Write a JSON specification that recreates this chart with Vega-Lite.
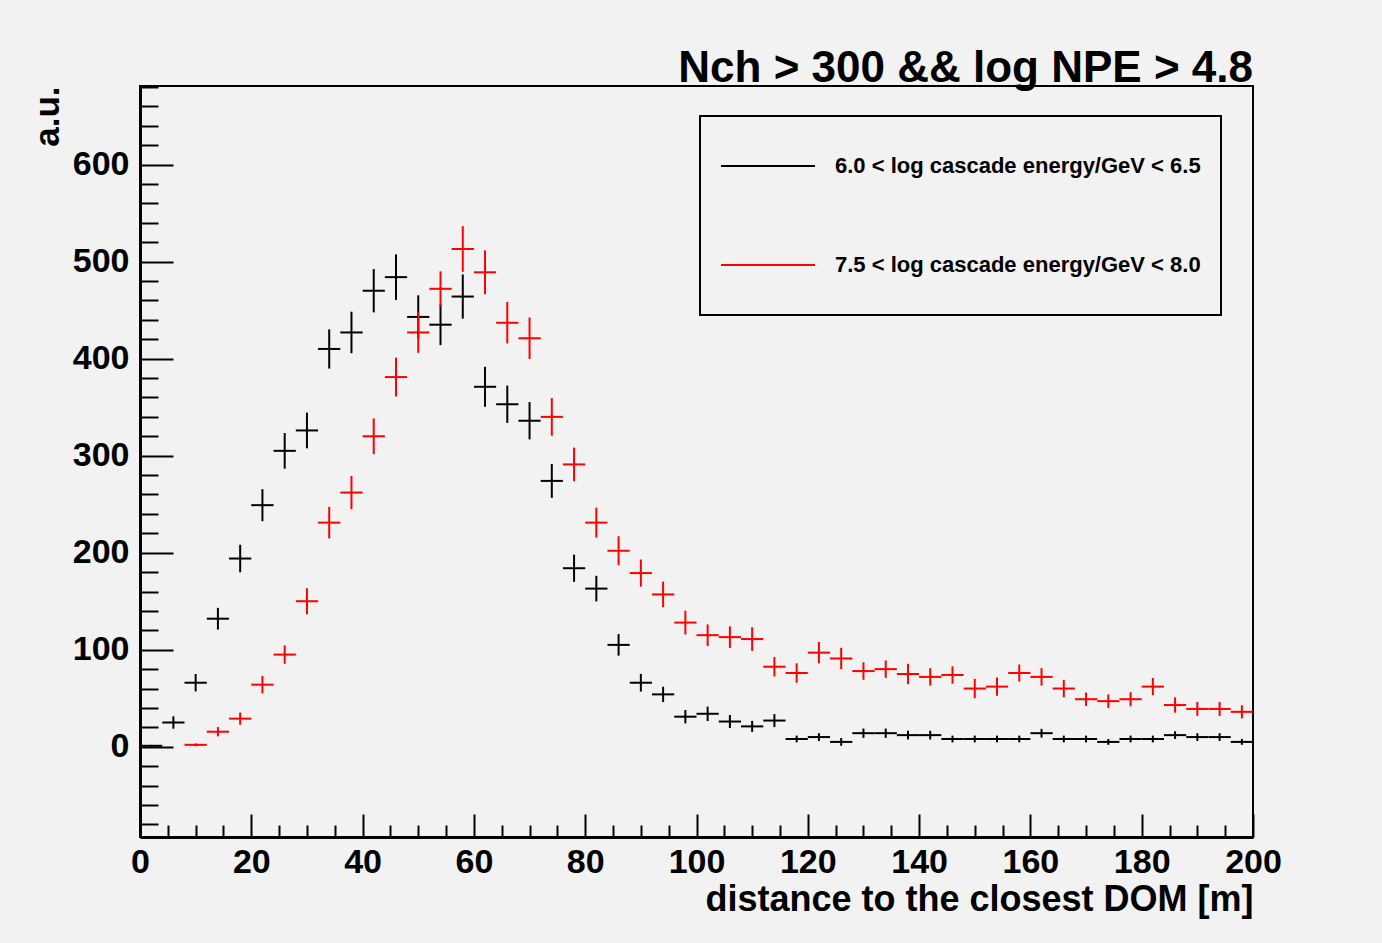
{
  "$schema": "https://vega.github.io/schema/vega-lite/v6.json",
  "width": 1113,
  "height": 751,
  "autosize": {"type": "none"},
  "padding": {"left": 140, "top": 86, "right": 129, "bottom": 106},
  "background": "#f2f2f2",
  "config": {
    "font": "Liberation Sans",
    "view": {"stroke": "#000000", "strokeWidth": 2},
    "legend": {"strokeColor": "#000000", "strokeWidth": 2, "fillColor": "#f2f2f2", "padding": 20, "cornerRadius": 0}
  },
  "title": {
    "text": "Nch > 300 && log NPE > 4.8",
    "anchor": "end",
    "frame": "group",
    "fontSize": 44,
    "fontWeight": "bold",
    "color": "#000000",
    "baseline": "alphabetic",
    "offset": -40
  },
  "data": {
    "values": [
      {"s": "6.0 < log cascade energy/GeV < 6.5", "c": 2, "lo": 0, "hi": 4, "v": 1, "e": 1},
      {"s": "6.0 < log cascade energy/GeV < 6.5", "c": 6, "lo": 4, "hi": 8, "v": 25, "e": 6.4},
      {"s": "6.0 < log cascade energy/GeV < 6.5", "c": 10, "lo": 8, "hi": 12, "v": 66, "e": 9},
      {"s": "6.0 < log cascade energy/GeV < 6.5", "c": 14, "lo": 12, "hi": 16, "v": 132, "e": 11.2},
      {"s": "6.0 < log cascade energy/GeV < 6.5", "c": 18, "lo": 16, "hi": 20, "v": 194, "e": 14.2},
      {"s": "6.0 < log cascade energy/GeV < 6.5", "c": 22, "lo": 20, "hi": 24, "v": 249, "e": 16.5},
      {"s": "6.0 < log cascade energy/GeV < 6.5", "c": 26, "lo": 24, "hi": 28, "v": 305, "e": 18.4},
      {"s": "6.0 < log cascade energy/GeV < 6.5", "c": 30, "lo": 28, "hi": 32, "v": 326, "e": 18.4},
      {"s": "6.0 < log cascade energy/GeV < 6.5", "c": 34, "lo": 32, "hi": 36, "v": 410, "e": 20.2},
      {"s": "6.0 < log cascade energy/GeV < 6.5", "c": 38, "lo": 36, "hi": 40, "v": 427, "e": 21.4},
      {"s": "6.0 < log cascade energy/GeV < 6.5", "c": 42, "lo": 40, "hi": 44, "v": 470, "e": 22.3},
      {"s": "6.0 < log cascade energy/GeV < 6.5", "c": 46, "lo": 44, "hi": 48, "v": 484, "e": 23.5},
      {"s": "6.0 < log cascade energy/GeV < 6.5", "c": 50, "lo": 48, "hi": 52, "v": 443, "e": 22.3},
      {"s": "6.0 < log cascade energy/GeV < 6.5", "c": 54, "lo": 52, "hi": 56, "v": 435, "e": 21},
      {"s": "6.0 < log cascade energy/GeV < 6.5", "c": 58, "lo": 56, "hi": 60, "v": 464, "e": 22.8},
      {"s": "6.0 < log cascade energy/GeV < 6.5", "c": 62, "lo": 60, "hi": 64, "v": 371, "e": 20.6},
      {"s": "6.0 < log cascade energy/GeV < 6.5", "c": 66, "lo": 64, "hi": 68, "v": 353, "e": 19.2},
      {"s": "6.0 < log cascade energy/GeV < 6.5", "c": 70, "lo": 68, "hi": 72, "v": 336, "e": 19.2},
      {"s": "6.0 < log cascade energy/GeV < 6.5", "c": 74, "lo": 72, "hi": 76, "v": 274, "e": 17.5},
      {"s": "6.0 < log cascade energy/GeV < 6.5", "c": 78, "lo": 76, "hi": 80, "v": 184, "e": 14},
      {"s": "6.0 < log cascade energy/GeV < 6.5", "c": 82, "lo": 80, "hi": 84, "v": 163, "e": 13.2},
      {"s": "6.0 < log cascade energy/GeV < 6.5", "c": 86, "lo": 84, "hi": 88, "v": 105, "e": 11.1},
      {"s": "6.0 < log cascade energy/GeV < 6.5", "c": 90, "lo": 88, "hi": 92, "v": 66, "e": 9.1},
      {"s": "6.0 < log cascade energy/GeV < 6.5", "c": 94, "lo": 92, "hi": 96, "v": 54, "e": 7.9},
      {"s": "6.0 < log cascade energy/GeV < 6.5", "c": 98, "lo": 96, "hi": 100, "v": 31, "e": 6.9},
      {"s": "6.0 < log cascade energy/GeV < 6.5", "c": 102, "lo": 100, "hi": 104, "v": 34, "e": 7.4},
      {"s": "6.0 < log cascade energy/GeV < 6.5", "c": 106, "lo": 104, "hi": 108, "v": 26, "e": 6.7},
      {"s": "6.0 < log cascade energy/GeV < 6.5", "c": 110, "lo": 108, "hi": 112, "v": 21, "e": 5.7},
      {"s": "6.0 < log cascade energy/GeV < 6.5", "c": 114, "lo": 112, "hi": 116, "v": 27, "e": 6.7},
      {"s": "6.0 < log cascade energy/GeV < 6.5", "c": 118, "lo": 116, "hi": 120, "v": 8, "e": 3.5},
      {"s": "6.0 < log cascade energy/GeV < 6.5", "c": 122, "lo": 120, "hi": 124, "v": 10, "e": 4},
      {"s": "6.0 < log cascade energy/GeV < 6.5", "c": 126, "lo": 124, "hi": 128, "v": 5, "e": 4},
      {"s": "6.0 < log cascade energy/GeV < 6.5", "c": 130, "lo": 128, "hi": 132, "v": 14, "e": 4.8},
      {"s": "6.0 < log cascade energy/GeV < 6.5", "c": 134, "lo": 132, "hi": 136, "v": 14, "e": 4.8},
      {"s": "6.0 < log cascade energy/GeV < 6.5", "c": 138, "lo": 136, "hi": 140, "v": 12, "e": 4.5},
      {"s": "6.0 < log cascade energy/GeV < 6.5", "c": 142, "lo": 140, "hi": 144, "v": 12, "e": 4.5},
      {"s": "6.0 < log cascade energy/GeV < 6.5", "c": 146, "lo": 144, "hi": 148, "v": 8, "e": 3.5},
      {"s": "6.0 < log cascade energy/GeV < 6.5", "c": 150, "lo": 148, "hi": 152, "v": 8, "e": 3.5},
      {"s": "6.0 < log cascade energy/GeV < 6.5", "c": 154, "lo": 152, "hi": 156, "v": 8, "e": 3.5},
      {"s": "6.0 < log cascade energy/GeV < 6.5", "c": 158, "lo": 156, "hi": 160, "v": 8, "e": 3.5},
      {"s": "6.0 < log cascade energy/GeV < 6.5", "c": 162, "lo": 160, "hi": 164, "v": 14, "e": 4.5},
      {"s": "6.0 < log cascade energy/GeV < 6.5", "c": 166, "lo": 164, "hi": 168, "v": 8, "e": 3.5},
      {"s": "6.0 < log cascade energy/GeV < 6.5", "c": 170, "lo": 168, "hi": 172, "v": 8, "e": 3.5},
      {"s": "6.0 < log cascade energy/GeV < 6.5", "c": 174, "lo": 172, "hi": 176, "v": 5, "e": 3},
      {"s": "6.0 < log cascade energy/GeV < 6.5", "c": 178, "lo": 176, "hi": 180, "v": 8, "e": 3.5},
      {"s": "6.0 < log cascade energy/GeV < 6.5", "c": 182, "lo": 180, "hi": 184, "v": 8, "e": 3.5},
      {"s": "6.0 < log cascade energy/GeV < 6.5", "c": 186, "lo": 184, "hi": 188, "v": 12, "e": 4},
      {"s": "6.0 < log cascade energy/GeV < 6.5", "c": 190, "lo": 188, "hi": 192, "v": 10, "e": 4},
      {"s": "6.0 < log cascade energy/GeV < 6.5", "c": 194, "lo": 192, "hi": 196, "v": 10, "e": 4},
      {"s": "6.0 < log cascade energy/GeV < 6.5", "c": 198, "lo": 196, "hi": 200, "v": 5, "e": 3},
      {"s": "7.5 < log cascade energy/GeV < 8.0", "c": 10, "lo": 8, "hi": 12, "v": 2, "e": 1.5},
      {"s": "7.5 < log cascade energy/GeV < 8.0", "c": 14, "lo": 12, "hi": 16, "v": 15.5, "e": 4.8},
      {"s": "7.5 < log cascade energy/GeV < 8.0", "c": 18, "lo": 16, "hi": 20, "v": 29, "e": 6.3},
      {"s": "7.5 < log cascade energy/GeV < 8.0", "c": 22, "lo": 20, "hi": 24, "v": 64, "e": 9},
      {"s": "7.5 < log cascade energy/GeV < 8.0", "c": 26, "lo": 24, "hi": 28, "v": 95, "e": 9.5},
      {"s": "7.5 < log cascade energy/GeV < 8.0", "c": 30, "lo": 28, "hi": 32, "v": 150, "e": 13.4},
      {"s": "7.5 < log cascade energy/GeV < 8.0", "c": 34, "lo": 32, "hi": 36, "v": 231, "e": 16.3},
      {"s": "7.5 < log cascade energy/GeV < 8.0", "c": 38, "lo": 36, "hi": 40, "v": 262, "e": 17.1},
      {"s": "7.5 < log cascade energy/GeV < 8.0", "c": 42, "lo": 40, "hi": 44, "v": 320, "e": 18.4},
      {"s": "7.5 < log cascade energy/GeV < 8.0", "c": 46, "lo": 44, "hi": 48, "v": 381, "e": 20},
      {"s": "7.5 < log cascade energy/GeV < 8.0", "c": 50, "lo": 48, "hi": 52, "v": 427, "e": 21},
      {"s": "7.5 < log cascade energy/GeV < 8.0", "c": 54, "lo": 52, "hi": 56, "v": 472, "e": 18},
      {"s": "7.5 < log cascade energy/GeV < 8.0", "c": 58, "lo": 56, "hi": 60, "v": 513, "e": 23.5},
      {"s": "7.5 < log cascade energy/GeV < 8.0", "c": 62, "lo": 60, "hi": 64, "v": 489, "e": 22.6},
      {"s": "7.5 < log cascade energy/GeV < 8.0", "c": 66, "lo": 64, "hi": 68, "v": 437, "e": 21.4},
      {"s": "7.5 < log cascade energy/GeV < 8.0", "c": 70, "lo": 68, "hi": 72, "v": 421, "e": 21.4},
      {"s": "7.5 < log cascade energy/GeV < 8.0", "c": 74, "lo": 72, "hi": 76, "v": 340, "e": 19.4},
      {"s": "7.5 < log cascade energy/GeV < 8.0", "c": 78, "lo": 76, "hi": 80, "v": 291, "e": 17.3},
      {"s": "7.5 < log cascade energy/GeV < 8.0", "c": 82, "lo": 80, "hi": 84, "v": 231, "e": 15.4},
      {"s": "7.5 < log cascade energy/GeV < 8.0", "c": 86, "lo": 84, "hi": 88, "v": 202, "e": 15},
      {"s": "7.5 < log cascade energy/GeV < 8.0", "c": 90, "lo": 88, "hi": 92, "v": 179, "e": 14},
      {"s": "7.5 < log cascade energy/GeV < 8.0", "c": 94, "lo": 92, "hi": 96, "v": 157, "e": 13.2},
      {"s": "7.5 < log cascade energy/GeV < 8.0", "c": 98, "lo": 96, "hi": 100, "v": 128, "e": 12.2},
      {"s": "7.5 < log cascade energy/GeV < 8.0", "c": 102, "lo": 100, "hi": 104, "v": 115, "e": 11.1},
      {"s": "7.5 < log cascade energy/GeV < 8.0", "c": 106, "lo": 104, "hi": 108, "v": 113, "e": 11.1},
      {"s": "7.5 < log cascade energy/GeV < 8.0", "c": 110, "lo": 108, "hi": 112, "v": 111, "e": 12.2},
      {"s": "7.5 < log cascade energy/GeV < 8.0", "c": 114, "lo": 112, "hi": 116, "v": 82.5, "e": 10},
      {"s": "7.5 < log cascade energy/GeV < 8.0", "c": 118, "lo": 116, "hi": 120, "v": 76, "e": 10},
      {"s": "7.5 < log cascade energy/GeV < 8.0", "c": 122, "lo": 120, "hi": 124, "v": 97, "e": 11},
      {"s": "7.5 < log cascade energy/GeV < 8.0", "c": 126, "lo": 124, "hi": 128, "v": 91, "e": 11},
      {"s": "7.5 < log cascade energy/GeV < 8.0", "c": 130, "lo": 128, "hi": 132, "v": 78, "e": 9},
      {"s": "7.5 < log cascade energy/GeV < 8.0", "c": 134, "lo": 132, "hi": 136, "v": 80, "e": 9},
      {"s": "7.5 < log cascade energy/GeV < 8.0", "c": 138, "lo": 136, "hi": 140, "v": 75, "e": 10.5},
      {"s": "7.5 < log cascade energy/GeV < 8.0", "c": 142, "lo": 140, "hi": 144, "v": 72, "e": 9},
      {"s": "7.5 < log cascade energy/GeV < 8.0", "c": 146, "lo": 144, "hi": 148, "v": 74, "e": 9},
      {"s": "7.5 < log cascade energy/GeV < 8.0", "c": 150, "lo": 148, "hi": 152, "v": 60, "e": 10},
      {"s": "7.5 < log cascade energy/GeV < 8.0", "c": 154, "lo": 152, "hi": 156, "v": 62, "e": 9.4},
      {"s": "7.5 < log cascade energy/GeV < 8.0", "c": 158, "lo": 156, "hi": 160, "v": 76, "e": 8.8},
      {"s": "7.5 < log cascade energy/GeV < 8.0", "c": 162, "lo": 160, "hi": 164, "v": 72, "e": 9},
      {"s": "7.5 < log cascade energy/GeV < 8.0", "c": 166, "lo": 164, "hi": 168, "v": 60, "e": 9},
      {"s": "7.5 < log cascade energy/GeV < 8.0", "c": 170, "lo": 168, "hi": 172, "v": 49, "e": 6.9},
      {"s": "7.5 < log cascade energy/GeV < 8.0", "c": 174, "lo": 172, "hi": 176, "v": 47, "e": 7},
      {"s": "7.5 < log cascade energy/GeV < 8.0", "c": 178, "lo": 176, "hi": 180, "v": 49, "e": 7.2},
      {"s": "7.5 < log cascade energy/GeV < 8.0", "c": 182, "lo": 180, "hi": 184, "v": 62, "e": 8.9},
      {"s": "7.5 < log cascade energy/GeV < 8.0", "c": 186, "lo": 184, "hi": 188, "v": 43, "e": 7.9},
      {"s": "7.5 < log cascade energy/GeV < 8.0", "c": 190, "lo": 188, "hi": 192, "v": 39, "e": 7.2},
      {"s": "7.5 < log cascade energy/GeV < 8.0", "c": 194, "lo": 192, "hi": 196, "v": 39, "e": 7.2},
      {"s": "7.5 < log cascade energy/GeV < 8.0", "c": 198, "lo": 196, "hi": 200, "v": 36, "e": 6.7}
    ]
  },
  "layer": [
    {
      "mark": {"type": "rule", "strokeWidth": 2},
      "encoding": {
        "x": {
          "field": "lo",
          "type": "quantitative",
          "scale": {"domain": [0, 200], "nice": false, "zero": false},
          "axis": {
            "title": "distance to the closest DOM [m]",
            "values": [0, 20, 40, 60, 80, 100, 120, 140, 160, 180, 200],
            "grid": false,
            "tickSize": -23,
            "tickWidth": 2,
            "tickColor": "#000000",
            "domainColor": "#000000",
            "domainWidth": 3,
            "labelFontSize": 34,
            "labelFontWeight": "bold",
            "labelColor": "#000000",
            "labelPadding": 31,
            "labelFlush": false,
            "labelOverlap": false,
            "titleFontSize": 36,
            "titleFontWeight": "bold",
            "titleColor": "#000000",
            "titleAnchor": "end",
            "titleBaseline": "alphabetic",
            "titlePadding": 31
          }
        },
        "x2": {"field": "hi"},
        "y": {
          "field": "v",
          "type": "quantitative",
          "scale": {"domain": [-93, 681], "nice": false, "zero": false},
          "axis": {
            "title": "a.u.",
            "values": [0, 100, 200, 300, 400, 500, 600],
            "grid": false,
            "tickSize": -33,
            "tickWidth": 2,
            "tickColor": "#000000",
            "domainColor": "#000000",
            "domainWidth": 3,
            "labelFontSize": 34,
            "labelFontWeight": "bold",
            "labelColor": "#000000",
            "labelPadding": 44,
            "labelOverlap": false,
            "titleFontSize": 35,
            "titleFontWeight": "bold",
            "titleColor": "#000000",
            "titleAnchor": "end",
            "titleBaseline": "alphabetic",
            "titlePadding": 14
          }
        },
        "color": {
          "field": "s",
          "type": "nominal",
          "scale": {
            "domain": ["6.0 < log cascade energy/GeV < 6.5", "7.5 < log cascade energy/GeV < 8.0"],
            "range": ["#000000", "#ff0000"]
          },
          "legend": {
            "orient": "none",
            "legendX": 560,
            "legendY": 30,
            "title": null,
            "symbolType": "stroke",
            "symbolSize": 8836,
            "symbolStrokeWidth": 2,
            "labelOffset": 19,
            "labelFontSize": 22,
            "labelFontWeight": "bold",
            "labelColor": "#000000",
            "labelLimit": 0,
            "clipHeight": 60,
            "rowPadding": 39
          }
        }
      }
    },
    {
      "mark": {"type": "errorbar", "ticks": false, "thickness": 2},
      "encoding": {
        "x": {
          "field": "c",
          "type": "quantitative",
          "axis": {
            "orient": "bottom",
            "values": [5, 10, 15, 25, 30, 35, 45, 50, 55, 65, 70, 75, 85, 90, 95, 105, 110, 115, 125, 130, 135, 145, 150, 155, 165, 170, 175, 185, 190, 195],
            "grid": false,
            "labels": false,
            "domain": false,
            "title": null,
            "tickSize": -12,
            "tickWidth": 2,
            "tickColor": "#000000"
          }
        },
        "y": {
          "field": "v",
          "type": "quantitative",
          "axis": {
            "orient": "left",
            "values": [-80, -60, -40, -20, 20, 40, 60, 80, 120, 140, 160, 180, 220, 240, 260, 280, 320, 340, 360, 380, 420, 440, 460, 480, 520, 540, 560, 580, 620, 640, 660, 680],
            "grid": false,
            "labels": false,
            "domain": false,
            "title": null,
            "tickSize": -18,
            "tickWidth": 2,
            "tickColor": "#000000"
          }
        },
        "yError": {"field": "e"},
        "color": {"field": "s", "type": "nominal", "legend": null}
      }
    }
  ],
  "resolve": {"axis": {"x": "independent", "y": "independent"}}
}
